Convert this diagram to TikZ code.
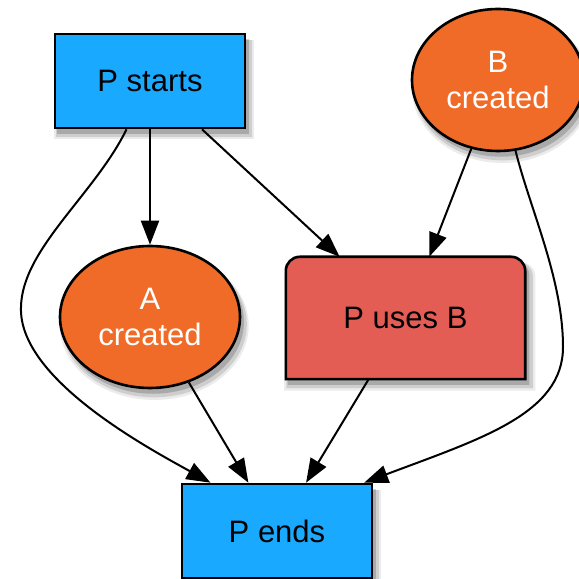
\documentclass[tikz,border=0pt]{standalone}
\usepackage{fontspec}
\setsansfont{Liberation Sans}
\usepackage{tikz}
\usetikzlibrary{positioning,shapes.geometric,arrows.meta,shadows,backgrounds}
\definecolor{sky}{HTML}{19A9FF}
\definecolor{tangerine}{HTML}{F06B27}
\definecolor{coral}{HTML}{E35D55}
\tikzset{
  font=\sffamily\fontsize{31}{36}\selectfont,
  >={Triangle[length=24pt,width=18pt]},
  % soft shadow, built from a few thin layers
  soft/.style    = {general shadow={shadow xshift=4pt, shadow yshift=-8pt, shadow scale=1.05,
                                    fill=black, opacity=0.08},
                    general shadow={shadow xshift=4pt, shadow yshift=-7pt, shadow scale=1.03,
                                    fill=black, opacity=0.12},
                    general shadow={shadow xshift=3pt, shadow yshift=-5pt, shadow scale=1.01,
                                    fill=black, opacity=0.18}},
  proc/.style    = {rectangle, draw=black, line width=2.6pt, fill=sky, soft,
                    minimum width=190pt, minimum height=94pt, text=black, inner sep=0pt},
  made/.style    = {ellipse, draw=black, line width=2.6pt, fill=tangerine, soft,
                    align=center, text=white, inner sep=0pt, minimum height=142pt},
  use/.style     = {minimum width=239pt, minimum height=122pt, text=black, inner sep=0pt},
  useshape/.style= {draw=black, line width=2.6pt, fill=coral, soft},
  flow/.style    = {->, draw=black, line width=2pt},
}

\begin{document}
\begin{tikzpicture}[x=1pt, y=1pt]
\useasboundingbox (0,0) rectangle (579,579);

% ---- nodes --------------------------------------------------------
\node[proc] at (150,498) (start) {P starts};
\node[made, minimum width=172pt] at (498,499) (bmade) {B\\created};
\node[made, minimum width=180pt] at (150,262) (amade) {A\\created};
\node[use] at (405.5,261) (uses) {P uses B};
\node[proc] at (277,48) (ends) {P ends};

% the uses box: only its top corners are rounded
\begin{scope}[on background layer]
\filldraw[useshape] (uses.south west) -- ([yshift=-14pt]uses.north west)
  arc[start angle=180, end angle=90, radius=14pt] -- ([xshift=-14pt]uses.north east)
  arc[start angle=90, end angle=0, radius=14pt] -- (uses.south east) -- cycle;
\end{scope}

\coordinate (lbend) at (21,272);
\coordinate (rbend) at (563,232);

% ---- edges --------------------------------------------------------
\draw[flow] (start) -- (amade);
\draw[flow] (start) -- (uses);
\draw[flow] (bmade) -- (uses);
\draw[flow] (amade) -- (ends);
\draw[flow] (uses) -- (ends);
\draw[flow] (start) .. controls (95,385) and (22,330) .. (lbend)
  .. controls (18,200) and (150,130) .. (ends.144);
\draw[flow] (bmade) .. controls (530,370) and (563,300) .. (rbend)
  .. controls (563,165) and (480,140) .. (ends.29);

\end{tikzpicture}
\end{document}
